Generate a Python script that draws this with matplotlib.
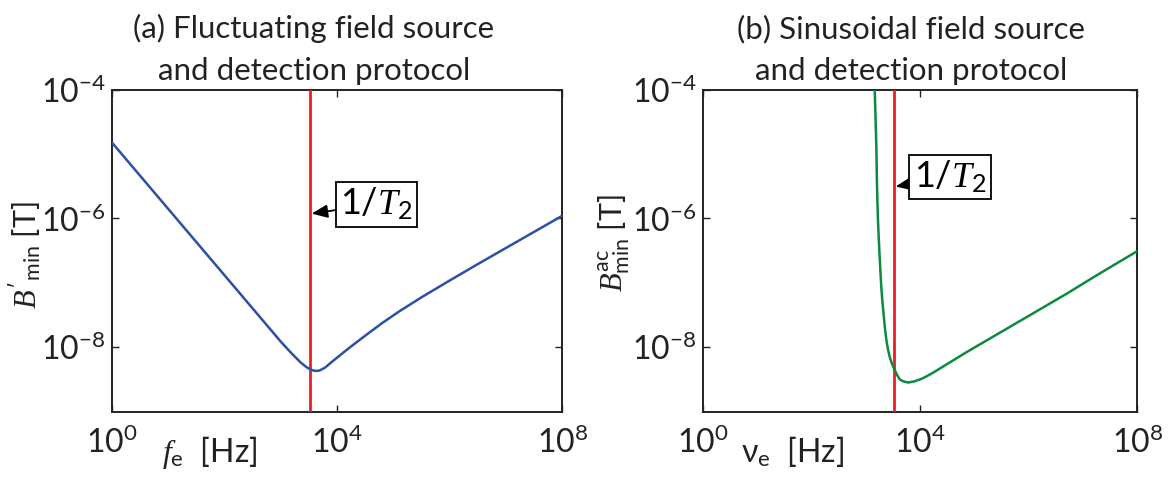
import numpy as np
import matplotlib.pyplot as plt
from matplotlib.ticker import FixedLocator, LogFormatterSciNotation

plt.rcParams['font.family'] = ['Lato', 'DejaVu Sans']
plt.rcParams['mathtext.fontset'] = 'custom'
plt.rcParams['mathtext.rm'] = 'Lato'
plt.rcParams['mathtext.it'] = 'Liberation Serif:italic'
plt.rcParams['mathtext.bf'] = 'Lato:bold'

# (a) fluctuating source: log10 frequency [Hz] vs log10 B'_min [T]
fluct_logf = [0.0, 0.5, 1.0, 1.5, 2.0, 2.5, 2.83, 3.0, 3.19, 3.35, 3.45, 3.53,
              3.60, 3.68, 3.78, 3.93, 4.10, 4.23, 4.50, 4.80, 5.11, 5.50,
              6.00, 6.50, 7.00, 7.50, 8.00]
fluct_logB = [-4.83, -5.345, -5.86, -6.375, -6.89, -7.405, -7.745, -7.92, -8.10, -8.24, -8.31, -8.35,
              -8.37, -8.365, -8.32, -8.21, -8.09, -8.00, -7.82, -7.625, -7.44, -7.225,
              -6.965, -6.71, -6.46, -6.21, -5.96]

# (b) sinusoidal source: log10 frequency [Hz] vs log10 B^ac_min [T]
sin_logf = [3.15, 3.16, 3.175, 3.19, 3.20, 3.21, 3.22, 3.235, 3.25, 3.265, 3.28, 3.30,
            3.32, 3.345, 3.37, 3.40, 3.435, 3.47, 3.51, 3.57, 3.62, 3.68, 3.77, 3.88,
            4.00, 4.08, 4.23, 4.50, 4.85, 5.50, 6.07, 6.70, 7.30, 8.00]
sin_logB = [-3.8, -4.0, -4.45, -4.89, -5.41, -5.75, -6.03, -6.33, -6.58, -6.83, -7.05, -7.28,
            -7.46, -7.68, -7.86, -8.02, -8.15, -8.24, -8.32, -8.43, -8.50, -8.53, -8.55, -8.535,
            -8.50, -8.47, -8.40, -8.26, -8.08, -7.76, -7.48, -7.17, -6.86, -6.51]

# 1/T2 marker frequency (log10 Hz)
inv_T2_log = 3.52

xticks = [1e0, 1e4, 1e8]
yticks = [1e-8, 1e-6, 1e-4]

blue = '#2b50a6'
green = '#0b8a40'
red = '#ee1d25'
ink = '#222222'

W, H = 1174, 480
fig = plt.figure(figsize=(W / 100, H / 100), dpi=100)


def px_axes(x0, x1, y0, y1):
    return fig.add_axes([x0 / W, 1 - y1 / H, (x1 - x0) / W, (y1 - y0) / H])


def style_axes(ax):
    ax.set_xscale('log')
    ax.set_yscale('log')
    ax.set_xlim(1e0, 1e8)
    ax.set_ylim(1e-9, 1e-4)
    ax.xaxis.set_major_locator(FixedLocator(xticks))
    ax.yaxis.set_major_locator(FixedLocator(yticks))
    ax.xaxis.set_major_formatter(LogFormatterSciNotation())
    ax.yaxis.set_major_formatter(LogFormatterSciNotation())
    ax.minorticks_off()
    ax.tick_params(direction='in', length=5, width=1, labelsize=23,
                   top=True, right=True, colors=ink)
    ax.tick_params(axis='y', pad=5)
    ax.tick_params(axis='x', pad=11)
    for sp in ax.spines.values():
        sp.set_linewidth(1.4)
        sp.set_color(ink)


ax1 = px_axes(112.3, 562.3, 89.5, 411.5)
ax2 = px_axes(703.3, 1137.3, 89.5, 411.5)

for ax in (ax1, ax2):
    style_axes(ax)
    ax.axvline(10 ** inv_T2_log, color=red, lw=2.0, zorder=3)

ax1.plot(10 ** np.array(fluct_logf), 10 ** np.array(fluct_logB), color=blue, lw=1.8,
         zorder=4, solid_joinstyle='round')
ax2.plot(10 ** np.array(sin_logf), 10 ** np.array(sin_logB), color=green, lw=1.8,
         zorder=4, solid_joinstyle='round')

box = dict(boxstyle='square,pad=0.12', fc='white', ec='black', lw=1.3)
arrow = dict(arrowstyle='-|>,head_length=0.6,head_width=0.25', color='black', lw=1.3,
             mutation_scale=16, shrinkA=0, shrinkB=1)
ax1.annotate('1/$T_2$', xy=(10 ** inv_T2_log, 10 ** -5.93), xytext=(10 ** 4.70, 10 ** -5.78),
             fontsize=26, ha='center', va='center', bbox=box, arrowprops=arrow, zorder=5)
ax2.annotate('1/$T_2$', xy=(10 ** inv_T2_log, 10 ** -5.51), xytext=(10 ** 4.55, 10 ** -5.36),
             fontsize=26, ha='center', va='center', bbox=box, arrowprops=arrow, zorder=5)

# titles
for cx, first in ((314, '(a) Fluctuating field source'), (911, '(b) Sinusoidal field source')):
    fig.text(cx / W, 1 - 38 / H, first, fontsize=22.5, ha='center', va='baseline', color=ink)
    fig.text(cx / W, 1 - 80 / H, 'and detection protocol', fontsize=22.5,
             ha='center', va='baseline', color=ink)

# axis labels
fig.text(210 / W, 1 - 462 / H, r'$f_{\mathrm{e}}$  [Hz]', fontsize=23,
         ha='center', va='baseline', color=ink)
fig.text(793 / W, 1 - 462 / H, r'ν$_{\mathrm{e}}$  [Hz]', fontsize=23,
         ha='center', va='baseline', color=ink)
fig.text(25 / W, 1 - 255 / H, r"$B'_{\mathrm{min}}$ [T]", fontsize=22, rotation=90,
         ha='center', va='center', color=ink)
fig.text(614 / W, 1 - 243 / H, r"$B^{\mathrm{ac}}_{\mathrm{min}}$ [T]", fontsize=22, rotation=90,
         ha='center', va='center', color=ink)

fig.savefig('out.png', dpi=100)
